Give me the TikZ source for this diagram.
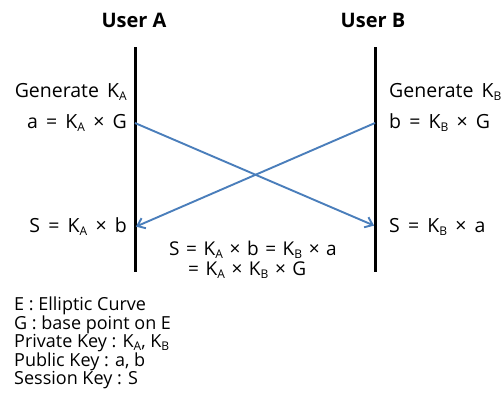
\documentclass[tikz,border=0pt]{standalone}
\usepackage{fontspec}
\setmainfont{Open Sans}
\usetikzlibrary{arrows.meta}
\definecolor{arrowblue}{RGB}{74,126,187}
\newcommand{\eqspace}{\spaceskip 8.2pt\relax}
\newcommand{\midspace}{\spaceskip 6.6pt\relax}
\tikzset{
  lbl/.style={inner sep=0pt, font=\fontsize{19.5}{22}\selectfont\eqspace},
  mid/.style={inner sep=0pt, anchor=base west, font=\fontsize{19}{22}\selectfont\midspace},
  leg/.style={inner sep=0pt, anchor=base west, font=\fontsize{18}{20}\selectfont},
  ttl/.style={inner sep=0pt, anchor=base, font=\fontsize{20}{22}\selectfont\bfseries},
  lifeline/.style={line width=3pt, black},
  msg/.style={line width=1.9pt, arrowblue, -{Straight Barb[length=7pt,width=11pt,line width=1.9pt]}, shorten >=1pt}
}
\newcommand{\sbs}[1]{\raisebox{-0.35ex}{\fontsize{12}{13}\selectfont #1}}
\begin{document}
\begin{tikzpicture}[x=1pt,y=-1pt]
\useasboundingbox (0,0) rectangle (502,399);
% titles
\node[ttl] (ua) at (134,27) {User A};
\node[ttl] (ub) at (373,27) {User B};
% lifelines
\coordinate (atop) at (135,47);
\coordinate (abot) at (135,272);
\coordinate (btop) at (375,47);
\coordinate (bbot) at (375,272);
\draw[lifeline] (atop) -- (abot);
\draw[lifeline] (btop) -- (bbot);
% left labels
\node[lbl, anchor=base east] (ga) at (127,97) {Generate K\sbs{A}};
\node[lbl, anchor=base east] (pa) at (127,128) {a = K\sbs{A} × G};
\node[lbl, anchor=base east] (sa) at (127,232) {S = K\sbs{A} × b};
% right labels
\node[lbl, anchor=base west] (gb) at (389,97) {Generate K\sbs{B}};
\node[lbl, anchor=base west] (pb) at (389,128) {b = K\sbs{B} × G};
\node[lbl, anchor=base west] (sb) at (389,232) {S = K\sbs{B} × a};
% message points
\coordinate (aout) at (135,123);
\coordinate (ain) at (135,227);
\coordinate (bout) at (375,123);
\coordinate (bin) at (375,226);
\draw[msg] (aout) -- (bin);
\draw[msg] (bout) -- (ain);
% shared key
\node[mid] (s1) at (169,255) {S = K\sbs{A} × b = K\sbs{B} × a};
\node[mid] (s2) at (188,275) {= K\sbs{A} × K\sbs{B} × G};
% legend
\node[leg] (l1) at (14,310) {E : Elliptic Curve};
\node[leg] (l2) at (14,329) {G : base point on E};
\node[leg] (l3) at (14,347) {Private Key : K\sbs{A}, K\sbs{B}};
\node[leg] (l4) at (14,366) {Public Key : a, b};
\node[leg] (l5) at (14,384) {Session Key : S};
\end{tikzpicture}
\end{document}
